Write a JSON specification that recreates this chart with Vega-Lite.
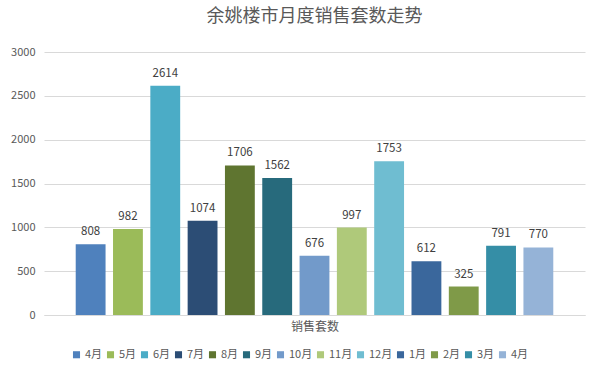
{
  "$schema": "https://vega.github.io/schema/vega-lite/v6.json",
  "autosize": {"type": "none"},
  "width": 541,
  "height": 263,
  "padding": {"left": 44, "top": 52, "right": 15, "bottom": 64},
  "background": "white",
  "title": {
    "text": "余姚楼市月度销售套数走势",
    "font": "Noto Sans CJK SC",
    "fontSize": 18,
    "fontWeight": "normal",
    "color": "#595959",
    "anchor": "middle",
    "offset": 20
  },
  "data": {
    "values": [
      {"idx": 1, "month": "4月", "sales": 808},
      {"idx": 2, "month": "5月", "sales": 982},
      {"idx": 3, "month": "6月", "sales": 2614},
      {"idx": 4, "month": "7月", "sales": 1074},
      {"idx": 5, "month": "8月", "sales": 1706},
      {"idx": 6, "month": "9月", "sales": 1562},
      {"idx": 7, "month": "10月", "sales": 676},
      {"idx": 8, "month": "11月", "sales": 997},
      {"idx": 9, "month": "12月", "sales": 1753},
      {"idx": 10, "month": "1月", "sales": 612},
      {"idx": 11, "month": "2月", "sales": 325},
      {"idx": 12, "month": "3月", "sales": 791},
      {"idx": 13, "month": "4月", "sales": 770}
    ]
  },
  "encoding": {
    "x": {
      "field": "idx",
      "type": "ordinal",
      "scale": {"paddingInner": 0.2, "paddingOuter": 0.85},
      "axis": {
        "title": "销售套数",
        "labels": false,
        "ticks": false,
        "domainColor": "#D9D9D9",
        "titleFont": "Noto Sans CJK SC",
        "titleFontSize": 12,
        "titleFontWeight": "normal",
        "titleColor": "#595959",
        "titlePadding": 6
      }
    },
    "y": {
      "field": "sales",
      "type": "quantitative",
      "scale": {"domain": [0, 3000]},
      "axis": {
        "title": null,
        "values": [0, 500, 1000, 1500, 2000, 2500, 3000],
        "format": "d",
        "domain": false,
        "ticks": false,
        "gridColor": "#D9D9D9",
        "labelColor": "#595959",
        "labelFont": "Noto Sans CJK SC",
        "labelFontSize": 11,
        "labelPadding": 9
      }
    }
  },
  "layer": [
    {
      "mark": {"type": "bar"},
      "encoding": {
        "color": {
          "field": "idx",
          "type": "ordinal",
          "scale": {
            "range": ["#4F81BD", "#9BBB59", "#4BACC6", "#2C4D75", "#5F7530", "#276A7C", "#729ACA", "#AFC97A", "#6FBDD1", "#3A679C", "#7F9A48", "#358EA6", "#95B3D7"]
          },
          "legend": {
            "orient": "none",
            "legendX": 27,
            "legendY": 297,
            "direction": "horizontal",
            "columns": 13,
            "title": null,
            "symbolType": "square",
            "symbolSize": 50,
            "symbolStrokeWidth": 0,
            "labelFont": "Noto Sans CJK SC",
            "labelFontSize": 11,
            "labelColor": "#595959",
            "columnPadding": 2,
            "symbolOffset": 0,
            "labelOffset": 3,
            "labelExpr": "['','4月','5月','6月','7月','8月','9月','10月','11月','12月','1月','2月','3月','4月'][datum.value]"
          }
        }
      }
    },
    {
      "mark": {"type": "text", "baseline": "bottom", "dy": -7, "font": "Noto Sans CJK SC", "fontSize": 11.5, "color": "#404040"},
      "encoding": {
        "text": {"field": "sales", "type": "quantitative"}
      }
    }
  ],
  "config": {
    "view": {"stroke": null}
  }
}
